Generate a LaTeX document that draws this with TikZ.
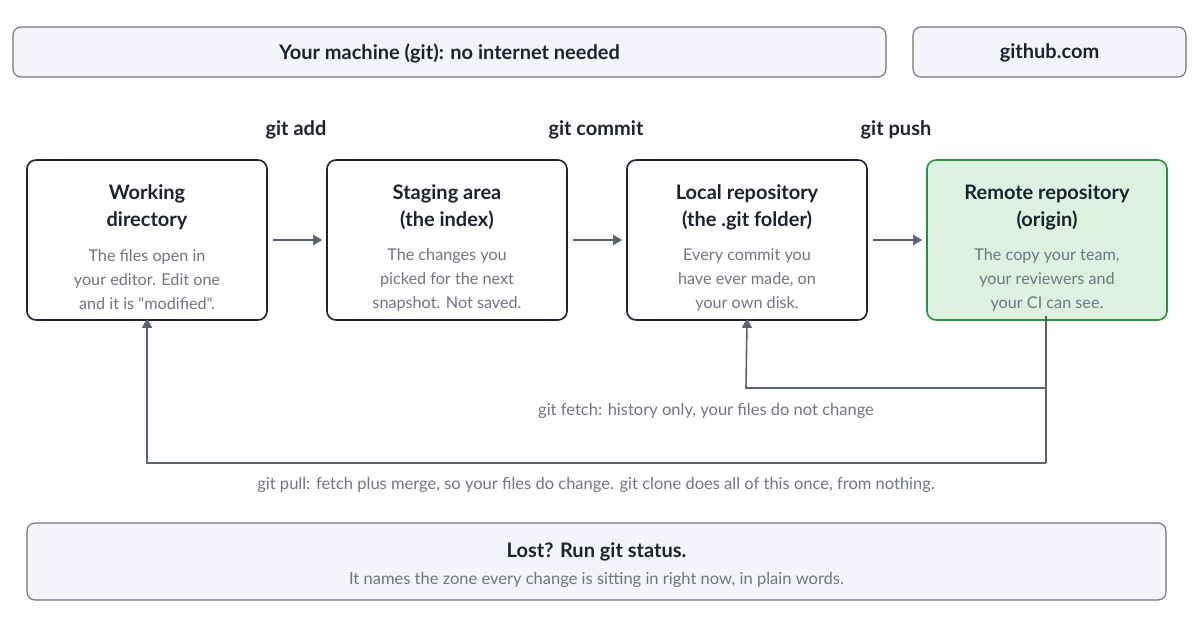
\documentclass[tikz,border=0pt]{standalone}
\usepackage{fontspec}
\setmainfont{Lato}[Ligatures=TeXOff]
\usetikzlibrary{arrows.meta}
\definecolor{ink}{HTML}{1D2230}
\definecolor{muted}{HTML}{70757F}
\definecolor{edge}{HTML}{5A6275}
\definecolor{panel}{HTML}{F3F5F9}
\definecolor{panelline}{HTML}{6E7280}
\definecolor{greenfill}{HTML}{DDF2DF}
\definecolor{greenline}{HTML}{2F8F3F}
\tikzset{
  banner/.style={draw=panelline, line width=1.1pt, fill=panel, rounded corners=8pt, inner sep=0pt},
  zone/.style={draw=ink, line width=1.6pt, fill=white, rounded corners=9pt, minimum width=240pt, minimum height=160pt, inner sep=0pt},
  remote/.style={zone, draw=greenline, fill=greenfill},
  ttl/.style={font=\fontsize{20}{27}\selectfont\bfseries, text=ink, align=center},
  dsc/.style={font=\fontsize{16.2}{24}\selectfont, text=muted, align=center},
  cmd/.style={font=\fontsize{20}{22}\selectfont\bfseries, text=ink},
  note/.style={font=\fontsize{16.5}{18}\selectfont, text=muted},
  flow/.style={draw=edge, line width=1.6pt, -{Triangle[length=9pt,width=10pt]}},
  line/.style={draw=edge, line width=1.6pt}
}
\begin{document}
\begin{tikzpicture}[x=1pt,y=-1pt]
\useasboundingbox (0,0) rectangle (1200,627);
% banners
\node[banner, minimum width=873pt, minimum height=50pt] (mach) at (449.5,52) {};
\node[ttl] (machT) at (449.5,53) {Your machine (git): no internet needed};
\node[banner, minimum width=273pt, minimum height=50pt] (gh) at (1049.5,52) {};
\node[ttl] (ghT) at (1049.5,53) {github.com};
% command labels
\node[cmd] (cadd) at (296,130) {git add};
\node[cmd] (ccommit) at (596,130) {git commit};
\node[cmd] (cpush) at (896,130) {git push};
% zones
\node[zone] (wd) at (147,240) {};
\node[zone] (st) at (447,240) {};
\node[zone] (lr) at (747,240) {};
\node[remote] (rr) at (1047,240) {};
\node[ttl] (wdT) at (147,207) {Working\\directory};
\node[dsc] (wdD) at (147,280) {The files open in\\your editor. Edit one\\and it is "modified".};
\node[ttl] (stT) at (447,207) {Staging area\\(the index)};
\node[dsc] (stD) at (447,280) {The changes you\\picked for the next\\snapshot. Not saved.};
\node[ttl] (lrT) at (747,207) {Local repository\\(the .git folder)};
\node[dsc] (lrD) at (747,280) {Every commit you\\have ever made, on\\your own disk.};
\node[ttl] (rrT) at (1047,207) {Remote repository\\(origin)};
\node[dsc] (rrD) at (1047,280) {The copy your team,\\your reviewers and\\your CI can see.};
% horizontal arrows
\draw[flow] ([xshift=5pt]wd.east) -- ([xshift=-4pt]st.west);
\draw[flow] ([xshift=5pt]st.east) -- ([xshift=-4pt]lr.west);
\draw[flow] ([xshift=5pt]lr.east) -- ([xshift=-4pt]rr.west);
% return paths
\coordinate (fj) at (1046,388);
\coordinate (pj) at (1046,463);
\draw[line] ([yshift=5pt]rr.south) ++(-1,0) -- (pj);
\draw[flow] (fj) -- (746,388) -- ([yshift=2pt]lr.south);
\draw[flow] (pj) -- (147,463) -- ([yshift=2pt]wd.south);
\node[note] (fetchL) at (706,411) {git fetch: history only, your files do not change};
\node[note] (pullL) at (596,485) {git pull: fetch plus merge, so your files do change. git clone does all of this once, from nothing.};
% bottom
\node[banner, minimum width=1139pt, minimum height=77pt] (lost) at (596.5,561.5) {};
\node[ttl] (lostT) at (596.5,552) {Lost? Run git status.};
\node[note] (lostD) at (596.5,580) {It names the zone every change is sitting in right now, in plain words.};
\end{tikzpicture}
\end{document}
